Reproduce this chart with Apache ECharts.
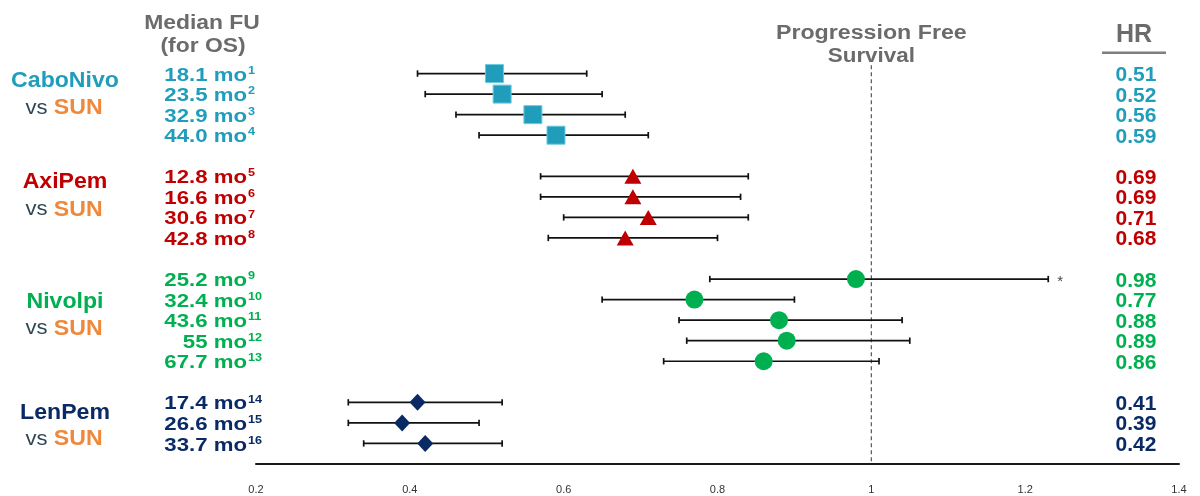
<!DOCTYPE html>
<html><head><meta charset="utf-8">
<script src="https://cdn.jsdelivr.net/npm/echarts@6/dist/echarts.min.js"></script>
<style>html,body{margin:0;padding:0;background:#fff}#c{width:1200px;height:496px}</style>
</head><body><div id="c"></div>
<script>
// ---------- data ----------
const groupNames = ['CaboNivo', 'AxiPem', 'Nivolpi', 'LenPem'];
const comparator = 'SUN';
const rowKeys = ['top','c0','c1','c2','c3','gap1','a0','a1','a2','a3','gap2','n0','n1','n2','n3','n4','gap3','l0','l1','l2','bottom'];
const caboRows = ['c0','c1','c2','c3'];
const axiRows  = ['a0','a1','a2','a3'];
const nivoRows = ['n0','n1','n2','n3','n4'];
const lenRows  = ['l0','l1','l2'];

const caboHR   = [0.51, 0.52, 0.56, 0.59];
const caboLow  = [0.41, 0.42, 0.46, 0.49];
const caboHigh = [0.63, 0.65, 0.68, 0.71];
const caboFU   = ['18.1', '23.5', '32.9', '44.0'];
const caboRef  = ['1', '2', '3', '4'];

const axiHR   = [0.69, 0.69, 0.71, 0.68];
const axiLow  = [0.57, 0.57, 0.60, 0.58];
const axiHigh = [0.84, 0.83, 0.84, 0.80];
const axiFU   = ['12.8', '16.6', '30.6', '42.8'];
const axiRef  = ['5', '6', '7', '8'];

const nivoHR   = [0.98, 0.77, 0.88, 0.89, 0.86];
const nivoLow  = [0.79, 0.65, 0.75, 0.76, 0.73];
const nivoHigh = [1.23, 0.90, 1.04, 1.05, 1.01];
const nivoFU   = ['25.2', '32.4', '43.6', '55', '67.7'];
const nivoRef  = ['9', '10', '11', '12', '13'];

const lenHR   = [0.41, 0.39, 0.42];
const lenLow  = [0.32, 0.32, 0.34];
const lenHigh = [0.52, 0.49, 0.52];
const lenFU   = ['17.4', '26.6', '33.7'];
const lenRef  = ['14', '15', '16'];

const refLine = 1;
const xMin = 0.2, xMax = 1.4, xStep = 0.2;
const headerFU = ['Median FU', '(for OS)'];
const headerPFS = ['Progression Free', 'Survival'];
const headerHR = 'HR';
const footnoteMark = '*';

// ---------- styles ----------
const groupColors = ['#1F9DBB', '#C00000', '#00B050', '#0A2A66'];
const symbols = ['rect', 'triangle', 'circle', 'diamond'];
const symbolSizes = [[18,18], [17,15], [18,18], [16,17]];
const vsColor = '#2E4756';
const sunColor = '#F0883A';
const headColor = '#6B6B6B';
const FONT = '"Liberation Sans", Arial, sans-serif';

const groups = [
  {rows: caboRows, hr: caboHR, lo: caboLow, hi: caboHigh, fu: caboFU, ref: caboRef},
  {rows: axiRows,  hr: axiHR,  lo: axiLow,  hi: axiHigh,  fu: axiFU,  ref: axiRef},
  {rows: nivoRows, hr: nivoHR, lo: nivoLow, hi: nivoHigh, fu: nivoFU, ref: nivoRef},
  {rows: lenRows,  hr: lenHR,  lo: lenLow,  hi: lenHigh,  fu: lenFU,  ref: lenRef}
];

const chart = echarts.init(document.getElementById('c'), null, {renderer: 'canvas'});

const errData = [];
groups.forEach(g => g.rows.forEach((r, i) => errData.push([g.lo[i], g.hi[i], rowKeys.indexOf(r)])));

const series = [{
  type: 'custom',
  coordinateSystem: 'cartesian2d',
  data: errData,
  encode: {x: [0, 1], y: 2},
  silent: true,
  z: 2,
  renderItem: function (params, api) {
    const p1 = api.coord([api.value(0), api.value(2)]);
    const p2 = api.coord([api.value(1), api.value(2)]);
    const cap = 3.2;
    const st = {stroke: '#111', lineWidth: 1.7};
    return {type: 'group', children: [
      {type: 'line', shape: {x1: p1[0], y1: p1[1], x2: p2[0], y2: p2[1]}, style: st},
      {type: 'line', shape: {x1: p1[0], y1: p1[1]-cap, x2: p1[0], y2: p1[1]+cap}, style: st},
      {type: 'line', shape: {x1: p2[0], y1: p2[1]-cap, x2: p2[0], y2: p2[1]+cap}, style: st}
    ]};
  }
}, {
  type: 'custom',
  coordinateSystem: 'cartesian2d',
  data: [[refLine, rowKeys.indexOf('c0'), rowKeys.length - 1]],
  encode: {x: 0, y: [1, 2]},
  silent: true,
  z: 1,
  renderItem: function (params, api) {
    const top = api.coord([api.value(0), api.value(1)]);
    const bot = api.coord([api.value(0), api.value(2)]);
    const step = api.size([0, 1])[1];
    return {type: 'line', shape: {x1: top[0], y1: top[1] - 0.4*step, x2: bot[0], y2: bot[1]},
      style: {stroke: '#555', lineWidth: 1.2, lineDash: [4, 3]}};
  }
}];

groups.forEach((g, gi) => {
  series.push({
    type: 'scatter',
    data: g.rows.map((r, i) => [g.hr[i], r]),
    symbol: symbols[gi],
    symbolSize: symbolSizes[gi],
    itemStyle: {color: groupColors[gi], opacity: 1,
      borderColor: gi === 0 ? '#6CCBE0' : groupColors[gi], borderWidth: gi === 0 ? 1 : 0},
    z: 5,
    silent: true
  });
});

chart.setOption({
  animation: false,
  grid: {left: 256, right: 21, top: 53, bottom: 32, containLabel: false},
  xAxis: {
    type: 'value', min: xMin, max: xMax, interval: xStep,
    axisLine: {show: true, lineStyle: {color: '#1a1a1a', width: 2}},
    axisTick: {show: false},
    splitLine: {show: false},
    axisLabel: {color: '#333', fontSize: 11, fontFamily: FONT, margin: 20}
  },
  yAxis: {
    type: 'category', data: rowKeys, inverse: true, boundaryGap: false,
    show: false
  },
  series: series
});

// ---------- text columns, placed through the axes ----------
const yPix = k => chart.convertToPixel({yAxisIndex: 0}, k);
const xPix = v => chart.convertToPixel({xAxisIndex: 0}, v);
const gfx = [];
function txt(x, y, text, font, fill, align, sx, extra) {
  const el = {type: 'text', x: x, y: y, scaleX: sx || 1, silent: true,
    style: Object.assign({text: text, font: font, fill: fill, align: align || 'center', verticalAlign: 'middle'}, extra || {})};
  gfx.push(el);
}

// headers
txt(202, 23, headerFU[0], 'bold 21px ' + FONT, headColor, 'center', 1.09);
txt(203, 46, headerFU[1], 'bold 21px ' + FONT, headColor, 'center', 1.09);
const xRef = xPix(refLine);
txt(xRef, 33, headerPFS[0], 'bold 20px ' + FONT, headColor, 'center', 1.16);
txt(xRef, 56, headerPFS[1], 'bold 20px ' + FONT, headColor, 'center', 1.12);
txt(1134, 35, headerHR, 'bold 25px ' + FONT, headColor, 'center', 1);
gfx.push({type: 'rect', silent: true, shape: {x: 1102, y: 51.5, width: 64, height: 2.5}, style: {fill: '#7F7F7F'}});

const nameDy = [-23.4, -25.5, -18.5, -9.5];
const vsDy = [3.6, 2.5, 8.5, 16.5];
groups.forEach((g, gi) => {
  const c = groupColors[gi];
  const center = (yPix(g.rows[0]) + yPix(g.rows[g.rows.length - 1])) / 2;
  txt(65, center + nameDy[gi], groupNames[gi], 'bold 22px ' + FONT, c, 'center', 1.05);
  txt(64, center + vsDy[gi], '{v|vs} {s|' + comparator + '}', '22px ' + FONT, vsColor, 'center', 1.05,
    {rich: {v: {font: '21px ' + FONT, fill: vsColor}, s: {font: 'bold 22px ' + FONT, fill: sunColor}}});
  g.rows.forEach((r, i) => {
    const y = yPix(r);
    txt(247, y + 2, g.fu[i] + ' mo', 'bold 18.5px ' + FONT, c, 'right', 1.2);
    txt(248, y - 3, g.ref[i], 'bold 11.5px ' + FONT, c, 'left', 1.1);
    txt(1136, y + 2, g.hr[i].toFixed(2), 'bold 20px ' + FONT, c, 'center', 1.05);
  });
});
// footnote marker on first Nivolpi row
txt(xPix(nivoHigh[0]) + 12, yPix(nivoRows[0]) + 3, footnoteMark, '15px ' + FONT, '#444', 'center', 1);

chart.setOption({graphic: {elements: gfx}});
</script>
</body></html>
